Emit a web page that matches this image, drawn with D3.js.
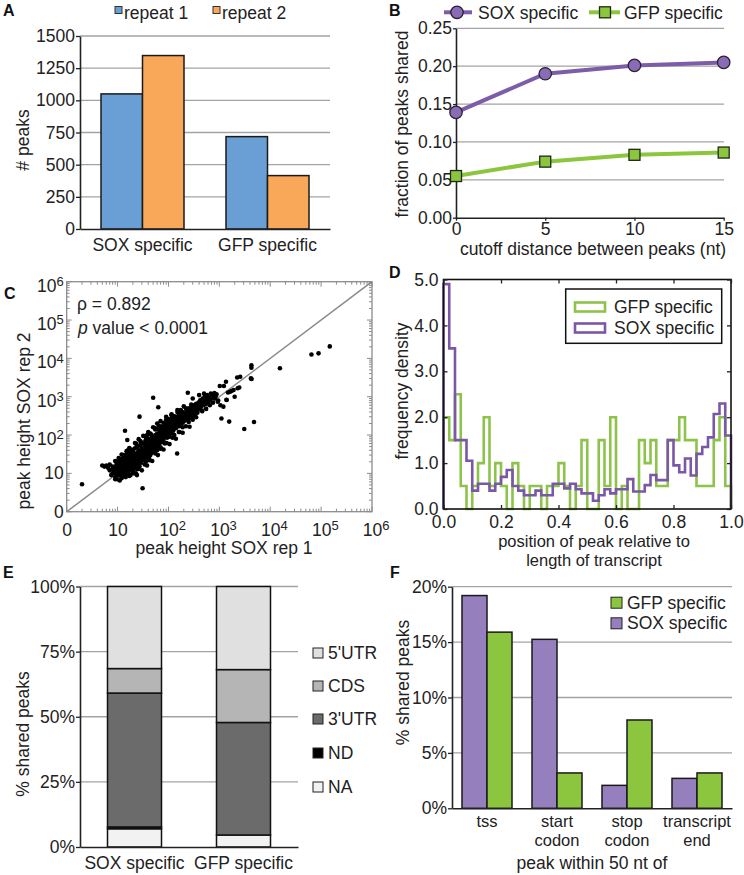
<!DOCTYPE html>
<html><head><meta charset="utf-8">
<script src="https://cdn.jsdelivr.net/npm/d3@7"></script>
<style>
body{margin:0;background:#fff;}
svg{display:block;font-family:"Liberation Sans",Arial,Helvetica,sans-serif;}
</style></head><body>
<svg id="c" width="744" height="875"></svg>
<script>
// ---------- DATA ----------
// Panel A
const aCategories = ["SOX specific", "GFP specific"];
const aSeries = ["repeat 1", "repeat 2"];
const aRepeat1 = [1050, 718];
const aRepeat2 = [1348, 415];
const aTicks = [0, 250, 500, 750, 1000, 1250, 1500];

// Panel B
const bCutoffs = [0, 5, 10, 15];
const bSox = [0.139, 0.190, 0.201, 0.205];
const bGfp = [0.055, 0.074, 0.083, 0.086];
const bTicks = [0, 0.05, 0.10, 0.15, 0.20, 0.25];

// Panel C  [peak height rep 1, peak height rep 2]
const cRho = "0.892";
const cPoints = [
[2,5.2],[5,16],[5.5,15],[6,16],[6.5,14],[7,12],[7,17],[7.5,9],[8,10],[8,13],
[8.5,11],[9,8],[9,10],[9,14],[9.5,12],[9.5,17],[10,7],[10,9],[10,11],[10,13],[10,16],[10,20],[10.5,10],[10.5,25],[11,6.5],[11,12],[11,15],[11,18],[11.5,9],[11.5,21],[12,8],[12,10],[12,13],[12,17],[12,22],
[12.5,15],[12.5,19],[13,11],[13,14],[13,19],[13,24],[13,30],[13.5,9],[14,12],[14,16],[14,20],[14,28],[14,129],[14.5,8],[14.5,14],[15,10],[15,13],[15,17],[15,22],[15,31],[15.5,74],[16,12],[16,15],[16,19],[16,25],[16,40],[16.5,11],[17,14],[17,18],[17,23],[17,35],[17.5,16],[17.5,29],[18,9],[18,13],[18,20],[18,27],
[19,15],[19,22],[19,31],[19,42],[20,12],[20,17],[20,20],[20,25],[20,38],[21,10],[21,14],[21,29],[22,18],[22,23],[22,33],[22,45],[23,16],[23,27],[23,60],[24,9],[24,13],[24,20],[24,30],[25,22],[25,35],[25,50],[26,18],[26,26],[26,40],[27,15],[27,30],[27,302],[28,21],[28,24],[28,34],[28,55],[29,19],[29,28],[29,65],[30,25],[30,38],[30,45],
[31,4.1],[31,22],[31,33],[32,28],[32,42],[33,26],[33,37],[33,58],[34,30],[34,48],[35,25],[35,40],[35,70],[36,20],[36,33],[36,52],[37,29],[37,44],[38,36],[38,62],[38,100],[39,31],[39,50],[40,28],[40,40],[40,80],[41,35],[41,56],[42,24],[42,45],[42,66],[43,38],[44,30],[44,52],[44,110],[45,42],[45,75],[46,34],[46,60],[47,48],[47,90],[48,38],[48,56],[49,70],[50,45],[50,62],[50,940],
[52,52],[52,80],[53,40],[54,68],[55,58],[55,100],[56,48],[56,150],[57,75],[58,55],[58,90],[60,40],[60,65],[60,110],[62,50],[62,82],[63,530],[64,70],[65,95],[65,140],[66,60],[68,80],[68,120],[70,48],[70,72],[70,100],[72,90],[72,150],[74,65],[75,110],[75,170],[76,85],[78,100],[78,130],[80,75],[80,120],[82,160],[84,95],[85,60],[85,140],[86,110],[88,200],[90,100],[90,130],[90,250],[92,170],[94,85],[95,150],[96,120],[98,210],[100,110],[100,140],
[102,180],[104,125],[105,90],[106,160],[108,230],[110,140],[112,190],[114,110],[115,260],[115,330],[118,170],[120,150],[120,220],[124,130],[125,190],[128,280],[130,100],[130,160],[132,210],[135,180],[138,240],[140,150],[140,300],[143,200],[145,170],[148,33],[150,220],[150,260],[150,400],[155,190],[158,320],[160,120],[160,230],[162,170],[165,270],[168,210],[170,350],[172,250],[175,190],[175,450],[178,300],[180,230],[185,280],[188,400],[190,160],[190,210],[195,330],[198,260],
[205,300],[210,240],[215,380],[220,280],[220,500],[225,460],[230,320],[235,260],[240,400],[240,1270],[245,300],[250,220],[250,350],[255,500],[260,280],[265,420],[270,340],[280,380],[280,620],[285,520],[290,300],[295,450],[300,250],[300,360],[300,900],[310,600],[320,420],[330,340],[340,500],[350,290],[350,650],[360,450],[370,380],[380,550],[390,700],[400,480],[400,1100],
[410,600],[420,800],[430,520],[450,680],[460,420],[470,900],[480,600],[500,750],[500,1200],[520,1000],[540,650],[550,480],[560,850],[580,1100],[600,700],[620,950],[650,600],[650,800],[680,1200],[700,900],[720,1050],[750,700],[750,1150],[780,950],[800,1250],[820,900],[850,1050],[880,1150],
[930,740],[950,790],[1020,1900],[1050,600],[1100,270],[1200,550],[1230,1900],[1350,2450],[1380,830],[1390,820],[1480,1290],[1560,224],[1620,1350],[1730,1410],[1900,1500],[2000,1000],[2240,3170],[2290,1660],[2460,1740],[2570,3300],[3090,144],[4170,3000],[4270,5700],[4270,6600],[4300,2900],[4800,219],[15500,5500],[64600,12600],[89000,13500],[148000,20500],
[8,15],[9,21],[11,24],[12,31],[13,26],[15,38],[17,46],[19,40],[22,62],[24,52],[26,78],[28,70],[32,95],[36,88],[40,120],[45,105],[50,160],[55,140],[60,200],[65,175],[70,230],[80,210],[90,300],[100,260],[115,350],[130,310],[150,450],[170,380],[200,560],[230,480],
[9,7],[12,7.5],[14,9],[17,8.5],[20,11],[23,10],[26,13],[30,12],[34,17],[38,16],[42,22],[48,21],[55,33],[62,30],[70,44],[80,42],[92,62],[105,58],[120,85],[140,80],[165,120],[190,115],[220,170],[260,165],
[11,10],[13,16],[15,20],[18,24],[21,20],[25,28],[27,36],[31,40],[35,48],[39,55],[43,60],[47,66],[51,72],[57,82],[63,90],[69,95],[75,130],[82,140],[88,150],[95,170],[108,200],[125,240],[145,260],[165,300],[185,330],[210,360]
];

// Panel D (frequency density per bin of width 0.02, bins from 0.0 to 1.0)
const dBinWidth = 0.02;
const dGfp = [2.0,1.5,2.5,0.5,0,0.5,1.0,2.0,0.5,1.0,
              0.5,0,1.0,0.5,0,0.5,0.5,0,0.5,0.5,
              1.0,0.5,0,0.5,1.5,0,0,1.5,0.5,2.0,
              0,0.5,0,0,1.5,1.0,1.5,0.5,0.5,1.5,
              1.5,2.0,1.5,1.5,0.5,0.5,0.5,1.5,2.0,0.5];
const dSox = [4.9,3.5,1.5,1.5,1.05,0.4,0.55,0.55,0.4,0.55,
              0.7,0.85,0.5,0.4,0.3,0.3,0.4,0.3,0.3,0.55,
              0.55,0.45,0.55,0.43,0.34,0.34,0.18,0.3,0.43,0.34,
              0.43,0.43,0.65,0.38,0.38,0.52,0.74,0.63,0.63,1.5,
              0.95,0.8,1.1,0.73,1.2,1.35,1.56,2.07,2.3,1.6];
const dXTicks = [0, 0.2, 0.4, 0.6, 0.8, 1.0];
const dYTicks = [0, 1, 2, 3, 4, 5];

// Panel E (% of shared peaks)
const eCategories = ["SOX specific", "GFP specific"];
const eRegions = ["NA", "ND", "3'UTR", "CDS", "5'UTR"];
const eSox = [7.0, 0.7, 51.4, 9.4, 31.5];
const eGfp = [4.6, 0.0, 43.2, 20.3, 31.9];
const eTicks = [0, 25, 50, 75, 100];

// Panel F (% shared peaks)
const fCategories = ["tss", "start codon", "stop codon", "transcript end"];
const fSox = [19.2, 15.25, 2.07, 2.7];
const fGfp = [15.9, 3.19, 7.97, 3.19];
const fTicks = [0, 5, 10, 15, 20];

// ---------- DRAWING ----------
const FONT = '"Liberation Sans", Arial, Helvetica, sans-serif';
const FS = 17.5;
const INK = "#222";
const GRID = "#a3a3a3";
const svg = d3.select("#c");

function label(x, y, s, o = {}) {
  const t = svg.append("text").attr("x", x).attr("y", y).attr("dy", o.dy ?? "0.35em")
    .attr("font-size", o.fs ?? FS).attr("fill", o.fill ?? INK)
    .attr("text-anchor", o.anchor ?? "start");
  if (o.rotate) t.attr("transform", `rotate(-90,${x},${y})`);
  t.text(s);
  return t;
}
function letter(x, y, s) {
  svg.append("text").attr("x", x).attr("y", y).attr("font-size", 16)
    .attr("font-weight", "bold").attr("fill", "#111").text(s);
}
function styleAxis(g, o = {}) {
  g.attr("font-family", FONT).attr("font-size", o.fs ?? FS);
  g.selectAll("text").attr("fill", INK);
  g.selectAll(".tick line").attr("stroke", o.tick ?? INK).attr("stroke-width", o.sw ?? 1.3);
  if (o.noDomain) g.select(".domain").remove();
  else g.select(".domain").attr("stroke", o.domain ?? INK).attr("stroke-width", o.dw ?? 1.6);
}
function grid(ticks, scale, x1, x2) {
  svg.append("g").selectAll("line").data(ticks).join("line")
    .attr("x1", x1).attr("x2", x2).attr("y1", d => scale(d)).attr("y2", d => scale(d))
    .attr("stroke", GRID).attr("stroke-width", 1.3);
}

// ===== Panel A =====
{
  letter(3, 16, "A");
  const aColors = ["#6a9fd6", "#f9a85a"];
  const xA = d3.scaleBand().domain(aCategories).range([80, 330]);
  const xAin = d3.scaleBand().domain(aSeries).range([xA.bandwidth() / 2 - 41.5, xA.bandwidth() / 2 + 41.5]);
  const yA = d3.scaleLinear().domain([0, 1500]).range([229, 36]);
  grid(aTicks.filter(d => d > 0), yA, 80, 330);
  const rows = aCategories.map((c, i) => ({ c, vals: [aRepeat1[i], aRepeat2[i]] }));
  rows.forEach(r => r.vals.forEach((v, j) => {
    svg.append("rect").attr("x", xA(r.c) + xAin(aSeries[j])).attr("y", yA(v))
      .attr("width", xAin.bandwidth()).attr("height", yA(0) - yA(v))
      .attr("fill", aColors[j]).attr("stroke", "#1a1a1a").attr("stroke-width", 1.5);
  }));
  styleAxis(svg.append("g").attr("transform", "translate(80,0)")
    .call(d3.axisLeft(yA).tickValues(aTicks).tickFormat(d3.format("d")).tickSize(4).tickPadding(1).tickSizeOuter(0)));
  styleAxis(svg.append("g").attr("transform", "translate(0,229)")
    .call(d3.axisBottom(xA).tickSize(0).tickPadding(10).tickSizeOuter(0)));
  label(23, 140, "# peaks", { anchor: "middle", rotate: true });
  const lx = [115, 213];
  aSeries.forEach((s, j) => {
    svg.append("rect").attr("x", lx[j]).attr("y", 6.5).attr("width", 7).attr("height", 7)
      .attr("fill", aColors[j]).attr("stroke", "#333").attr("stroke-width", 1);
    label(lx[j] + 9, 12.5, s);
  });
}

// ===== Panel B =====
{
  letter(389, 16, "B");
  const purple = "#7d5ca8", green = "#8cc63f";
  const xB = d3.scaleLinear().domain([0, 15]).range([456, 723.7]);
  const yB = d3.scaleLinear().domain([0, 0.25]).range([217.7, 28.3]);
  grid(bTicks.filter(d => d > 0), yB, 456, 724);
  styleAxis(svg.append("g").attr("transform", "translate(456,0)")
    .call(d3.axisLeft(yB).tickValues(bTicks).tickFormat(d3.format(".2f")).tickSize(3).tickPadding(1).tickSizeOuter(0)));
  styleAxis(svg.append("g").attr("transform", "translate(0,217.7)")
    .call(d3.axisBottom(xB).tickValues(bCutoffs).tickFormat(d3.format("d")).tickSize(3).tickPadding(2.2).tickSizeOuter(0)));
  const line = d3.line().x((d, i) => xB(bCutoffs[i])).y(d => yB(d));
  svg.append("path").attr("d", line(bSox)).attr("fill", "none").attr("stroke", purple).attr("stroke-width", 4);
  svg.append("path").attr("d", line(bGfp)).attr("fill", "none").attr("stroke", green).attr("stroke-width", 4);
  svg.append("g").selectAll("circle").data(bSox).join("circle")
    .attr("cx", (d, i) => xB(bCutoffs[i])).attr("cy", d => yB(d)).attr("r", 6.2)
    .attr("fill", "#8a6cb6").attr("stroke", "#2a2233").attr("stroke-width", 1.3);
  svg.append("g").selectAll("rect").data(bGfp).join("rect")
    .attr("x", (d, i) => xB(bCutoffs[i]) - 5.5).attr("y", d => yB(d) - 5.5).attr("width", 11).attr("height", 11)
    .attr("fill", green).attr("stroke", "#1e2a12").attr("stroke-width", 1.3);
  label(402, 124, "fraction of peaks shared", { anchor: "middle", rotate: true });
  label(593, 249, "cutoff distance between peaks (nt)", { anchor: "middle" });
  svg.append("line").attr("x1", 444).attr("x2", 472).attr("y1", 12.3).attr("y2", 12.3).attr("stroke", purple).attr("stroke-width", 4);
  svg.append("circle").attr("cx", 457).attr("cy", 12.3).attr("r", 6.2).attr("fill", "#8a6cb6").attr("stroke", "#2a2233").attr("stroke-width", 1.3);
  label(478, 12.5, "SOX specific");
  svg.append("line").attr("x1", 589).attr("x2", 620).attr("y1", 12.3).attr("y2", 12.3).attr("stroke", green).attr("stroke-width", 4);
  svg.append("rect").attr("x", 599.5).attr("y", 6.8).attr("width", 11).attr("height", 11).attr("fill", green).attr("stroke", "#1e2a12").attr("stroke-width", 1.3);
  label(624, 12.5, "GFP specific");
}

// ===== Panel C =====
{
  letter(4, 299, "C");
  const frame = "#8c8c8c";
  const xC = d3.scaleLog().domain([1, 1e6]).range([66.7, 372]);
  const yC = d3.scaleLog().domain([1, 1e6]).range([511.7, 281.7]);
  const majors = [1, 10, 100, 1e3, 1e4, 1e5, 1e6];
  const minors = [];
  for (let e = 0; e < 6; e++) for (let m = 2; m <= 9; m++) minors.push(m * Math.pow(10, e));
  svg.append("rect").attr("x", 66.7).attr("y", 281.7).attr("width", 372 - 66.7).attr("height", 511.7 - 281.7)
    .attr("fill", "none").attr("stroke", frame).attr("stroke-width", 1.3);
  const tk = svg.append("g").attr("stroke", frame).attr("stroke-width", 1);
  const addTicks = (vals, len) => {
    vals.forEach(v => {
      const x = xC(v), y = yC(v);
      tk.append("line").attr("x1", x).attr("x2", x).attr("y1", 511.7).attr("y2", 511.7 - len);
      tk.append("line").attr("x1", x).attr("x2", x).attr("y1", 281.7).attr("y2", 281.7 + len);
      tk.append("line").attr("y1", y).attr("y2", y).attr("x1", 66.7).attr("x2", 66.7 + len);
      tk.append("line").attr("y1", y).attr("y2", y).attr("x1", 372).attr("x2", 372 - len);
    });
  };
  addTicks(minors, 3);
  addTicks(majors, 5);
  const supLabel = (sel) => sel.each(function (d) {
    const t = d3.select(this); const e = Math.round(Math.log10(d));
    t.text(null);
    if (e === 0) t.text("0");
    else if (e === 1) t.text("10");
    else { t.append("tspan").text("10"); t.append("tspan").attr("dy", "-0.45em").attr("font-size", 13).text(e); }
  });
  const gx = svg.append("g").attr("transform", "translate(0,511.7)")
    .call(d3.axisBottom(xC).tickValues(majors).tickSize(0).tickPadding(12).tickSizeOuter(0));
  styleAxis(gx, { noDomain: true });
  gx.selectAll(".tick text").call(supLabel).attr("text-anchor", d => d >= 100 ? "start" : "middle")
    .attr("dx", d => d >= 100 ? -9.7 : 0);
  const gy = svg.append("g").attr("transform", "translate(66.7,0)")
    .call(d3.axisLeft(yC).tickValues(majors).tickSize(0).tickPadding(3).tickSizeOuter(0));
  styleAxis(gy, { noDomain: true });
  gy.selectAll(".tick text").call(supLabel);
  gy.selectAll(".tick text").filter(d => d >= 100).attr("dy", "0.55em");
  svg.append("line").attr("x1", xC(1)).attr("y1", yC(1)).attr("x2", xC(1e6)).attr("y2", yC(1e6))
    .attr("stroke", "#8a8a8a").attr("stroke-width", 1.5);
  svg.append("g").selectAll("circle").data(cPoints).join("circle")
    .attr("cx", d => xC(d[0])).attr("cy", d => yC(d[1])).attr("r", 2.3).attr("fill", "#000");
  label(77, 304, "\u03C1  = " + cRho);
  const pt = label(78, 328, "");
  pt.append("tspan").attr("font-style", "italic").text("p");
  pt.append("tspan").text(" value < 0.0001");
  label(224, 548.3, "peak height SOX rep 1", { anchor: "middle" });
  label(24, 421, "peak height SOX rep 2", { anchor: "middle", rotate: true });
}

// ===== Panel D =====
{
  letter(389, 278, "D");
  const green = "#8dc34a", purple = "#7b58a6";
  const xD = d3.scaleLinear().domain([0, 1]).range([443.5, 731]);
  const yD = d3.scaleLinear().domain([0, 5]).range([509, 279.5]);
  const stepPts = (vals) => {
    const pts = [[0, 0]];
    vals.forEach((v, k) => { pts.push([k * dBinWidth, v]); pts.push([(k + 1) * dBinWidth, v]); });
    pts.push([vals.length * dBinWidth, 0]);
    return pts;
  };
  const line = d3.line().x(d => xD(d[0])).y(d => yD(d[1]));
  svg.append("path").attr("d", line(stepPts(dGfp))).attr("fill", "none").attr("stroke", green).attr("stroke-width", 2.6);
  svg.append("path").attr("d", line(stepPts(dSox))).attr("fill", "none").attr("stroke", purple).attr("stroke-width", 2.6);
  svg.append("rect").attr("x", 443.5).attr("y", 279.5).attr("width", 731 - 443.5).attr("height", 509 - 279.5)
    .attr("fill", "none").attr("stroke", "#111").attr("stroke-width", 1.6);
  styleAxis(svg.append("g").attr("transform", "translate(0,509)")
    .call(d3.axisBottom(xD).tickValues(dXTicks).tickFormat(d3.format(".1f")).tickSize(-4).tickPadding(7).tickSizeOuter(0)), { noDomain: true });
  styleAxis(svg.append("g").attr("transform", "translate(0,279.5)")
    .call(d3.axisTop(xD).tickValues(dXTicks).tickFormat("").tickSize(-4).tickSizeOuter(0)), { noDomain: true });
  styleAxis(svg.append("g").attr("transform", "translate(443.5,0)")
    .call(d3.axisLeft(yD).tickValues(dYTicks).tickFormat(d3.format(".1f")).tickSize(-4).tickPadding(5).tickSizeOuter(0)), { noDomain: true });
  styleAxis(svg.append("g").attr("transform", "translate(731,0)")
    .call(d3.axisRight(yD).tickValues(dYTicks).tickFormat("").tickSize(-4).tickSizeOuter(0)), { noDomain: true });
  label(402, 391, "frequency density", { anchor: "middle", rotate: true });
  label(594, 541.5, "position of peak relative to", { anchor: "middle", fs: 16.5 });
  label(594, 560, "length of transcript", { anchor: "middle", fs: 16.5 });
  svg.append("rect").attr("x", 565.7).attr("y", 289).attr("width", 156).attr("height", 54.3)
    .attr("fill", "#fff").attr("stroke", "#111").attr("stroke-width", 1.5);
  [[green, "GFP specific", 307], [purple, "SOX specific", 328]].forEach(([c, s, y]) => {
    svg.append("rect").attr("x", 575).attr("y", y - 4.5).attr("width", 30).attr("height", 9)
      .attr("fill", "none").attr("stroke", c).attr("stroke-width", 2.6);
    label(614, y, s);
  });
}

// ===== Panel E =====
{
  letter(3, 578, "E");
  const eColors = { "NA": "#f2f2f2", "ND": "#000000", "3'UTR": "#6b6b6b", "CDS": "#b5b5b5", "5'UTR": "#e0e0e0" };
  const xE = d3.scaleBand().domain(eCategories).range([80, 298]);
  const yE = d3.scaleLinear().domain([0, 100]).range([847, 586.5]);
  grid(eTicks.filter(d => d > 0), yE, 80, 298);
  const rows = eCategories.map((c, i) => {
    const vals = i === 0 ? eSox : eGfp;
    const r = { cat: c };
    eRegions.forEach((k, j) => r[k] = vals[j]);
    return r;
  });
  const stacked = d3.stack().keys(eRegions)(rows);
  const bw = 54;
  stacked.forEach(layer => {
    layer.forEach(seg => {
      const h = yE(seg[0]) - yE(seg[1]);
      if (h <= 0) return;
      svg.append("rect").attr("x", xE(seg.data.cat) + (xE.bandwidth() - bw) / 2).attr("y", yE(seg[1]))
        .attr("width", bw).attr("height", h).attr("fill", eColors[layer.key])
        .attr("stroke", "#111").attr("stroke-width", 1.5);
    });
  });
  styleAxis(svg.append("g").attr("transform", "translate(80,0)")
    .call(d3.axisLeft(yE).tickValues(eTicks).tickFormat(d => d + "%").tickSize(4).tickPadding(1).tickSizeOuter(0)));
  styleAxis(svg.append("g").attr("transform", "translate(0,847)")
    .call(d3.axisBottom(xE).tickSize(0).tickPadding(10).tickSizeOuter(0)));
  label(22.5, 734, "% shared peaks", { anchor: "middle", rotate: true });
  const legendOrder = ["5'UTR", "CDS", "3'UTR", "ND", "NA"];
  const ly = [653, 686, 719, 753, 787];
  legendOrder.forEach((k, i) => {
    svg.append("rect").attr("x", 313).attr("y", ly[i] - 5).attr("width", 10).attr("height", 10)
      .attr("fill", eColors[k]).attr("stroke", "#222").attr("stroke-width", 1);
    label(328, ly[i], k);
  });
}

// ===== Panel F =====
{
  letter(390, 578, "F");
  const purple = "#9580bd", green = "#8cc63f";
  const xF = d3.scaleBand().domain(fCategories).range([452, 732]);
  const xFin = d3.scaleBand().domain(["SOX", "GFP"]).range([xF.bandwidth() / 2 - 25, xF.bandwidth() / 2 + 25]);
  const yF = d3.scaleLinear().domain([0, 20]).range([808.3, 586.7]);
  grid(fTicks.filter(d => d > 0), yF, 452, 732);
  fCategories.forEach((c, i) => {
    [["SOX", fSox[i], purple], ["GFP", fGfp[i], green]].forEach(([s, v, col]) => {
      svg.append("rect").attr("x", xF(c) + xFin(s)).attr("y", yF(v)).attr("width", xFin.bandwidth())
        .attr("height", yF(0) - yF(v)).attr("fill", col).attr("stroke", "#1a1a1a").attr("stroke-width", 1.5);
    });
  });
  styleAxis(svg.append("g").attr("transform", "translate(452,0)")
    .call(d3.axisLeft(yF).tickValues(fTicks).tickFormat(d => d + "%").tickSize(4).tickPadding(1).tickSizeOuter(0)));
  const gx = svg.append("g").attr("transform", "translate(0,808.3)")
    .call(d3.axisBottom(xF).tickSize(0).tickPadding(7).tickSizeOuter(0));
  styleAxis(gx);
  gx.selectAll(".tick").each(function (d) {
    const tick = d3.select(this);
    tick.select("text").remove();
    d.split(" ").forEach((p, i) => {
      tick.append("text").attr("x", 0).attr("y", 13 + i * 18.5).attr("dy", "0.35em")
        .attr("text-anchor", "middle").attr("font-size", 16.5).attr("fill", INK).text(p);
    });
  });
  label(402.5, 682.5, "% shared peaks", { anchor: "middle", rotate: true });
  label(592, 863.3, "peak within 50 nt of", { anchor: "middle" });
  [[green, "GFP specific", 602.7], [purple, "SOX specific", 623.3]].forEach(([c, s, y]) => {
    svg.append("rect").attr("x", 611).attr("y", y - 5.5).attr("width", 11).attr("height", 11)
      .attr("fill", c).attr("stroke", "#222").attr("stroke-width", 1);
    label(627, y, s);
  });
}
</script>
</body></html>
